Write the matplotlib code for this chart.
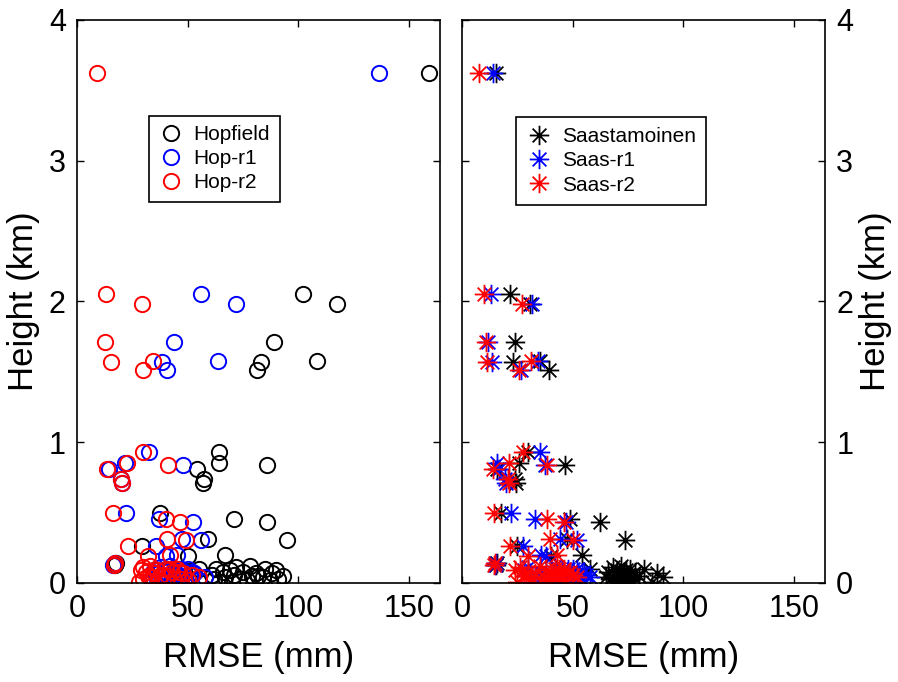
import matplotlib.pyplot as plt
from matplotlib.path import Path
import numpy as np

plt.rcParams['font.family'] = ['Liberation Sans', 'DejaVu Sans']

# station heights (km)
height = [3.62, 2.05, 1.98, 1.71, 1.57, 1.58, 1.51, 0.93, 0.855, 0.84, 0.81, 0.74, 0.71,
          0.495, 0.455, 0.435, 0.31, 0.305, 0.263, 0.20, 0.19, 0.14, 0.125,
          0.12, 0.11, 0.10, 0.10, 0.09, 0.09, 0.08, 0.08, 0.07, 0.07, 0.06, 0.06, 0.05,
          0.05, 0.04, 0.04, 0.03, 0.03, 0.02, 0.02, 0.01, 0.01, 0.10, 0.08, 0.05, 0.03]

# RMSE (mm), left panel
hopfield = [159, 102.3, 117.3, 89, 83.3, 108.6, 81.2, 64.3, 64.3, 86, 54, 57.4, 56.8,
            37.5, 71.1, 86, 59.3, 95, 29.6, 66.9, 50, 17.6, 17,
            78, 72, 63, 85, 69, 90, 75, 66, 81, 88, 61, 71, 79,
            93, 67, 84, 73, 62, 77, 87, 70, 64, 55, 52, 82, 91]
hop_r1 = [136.5, 56, 71.7, 43.8, 38.2, 63.6, 40.8, 32.7, 21.7, 48, 14.6, 20, 20.5,
          22.1, 37.2, 52.5, 47.3, 55.9, 35.7, 45, 40, 17, 16.5,
          42, 38, 46, 50, 35, 44, 48, 40, 53, 37, 45, 51, 39,
          47, 43, 58, 36, 49, 41, 55, 44, 34, 47, 52, 39, 46]
hop_r2 = [9, 13.1, 29.2, 12.7, 15.2, 34.2, 30, 30, 22.5, 41.3, 13.4, 19.7, 20.2,
          16.1, 40.2, 46.5, 40.8, 49.3, 23.2, 42, 32.2, 17.2, 16.8,
          33, 30, 40, 45, 29, 36, 43, 31, 48, 35, 38, 52, 32,
          41, 34, 55, 30, 44, 37, 50, 39, 28, 42, 46, 33, 47]

# RMSE (mm), right panel
saas = [15.5, 21.7, 30.5, 24, 23.2, 35.2, 39.2, 30, 25.9, 46.7, 16, 24, 24.5,
        17.5, 48.8, 62.4, 47.3, 73.7, 25, 54.1, 40, 15.9, 15.5,
        72, 68, 76, 82, 70, 74, 66, 78, 73, 88, 69, 75, 71,
        80, 65, 91, 73, 67, 76, 71, 86, 70, 58, 55, 74, 78]
saas_r1 = [13.8, 13, 31.5, 11.6, 13.4, 34.5, 26.5, 35.2, 16, 37.5, 16.9, 19.4, 20,
           22, 33, 47, 44.3, 52.1, 27.7, 35.8, 38, 15.5, 15,
           42, 30, 48, 52, 28, 45, 50, 35, 54, 40, 47, 56, 33,
           49, 44, 58, 38, 51, 46, 53, 43, 31, 50, 55, 36, 48]
saas_r2 = [7.7, 10.1, 27.3, 10.8, 11.1, 31, 25.9, 27.7, 21.4, 38.6, 14.2, 20.9, 21,
           14.5, 38.6, 46, 39.8, 50, 21.7, 42.8, 30, 14.9, 14.5,
           35, 26, 42, 46, 24, 38, 44, 30, 48, 33, 40, 50, 28,
           43, 37, 52, 31, 45, 39, 47, 36, 25, 44, 49, 29, 41]

# 8-spoke asterisk like MATLAB '*'
c = 0.7071
ast_verts = [(-1, 0), (1, 0), (0, -1), (0, 1), (-c, -c), (c, c), (-c, c), (c, -c)]
ast_codes = [Path.MOVETO, Path.LINETO] * 4
asterisk = Path(ast_verts, ast_codes)

fig = plt.figure(figsize=(8.98, 6.82), dpi=100)
ax1 = fig.add_axes([0.0857, 0.1452, 0.4043, 0.8255])
ax2 = fig.add_axes([0.5145, 0.1452, 0.4043, 0.8255])

for vals, col, lab in [(hopfield, 'black', 'Hopfield'), (hop_r1, 'blue', 'Hop-r1'),
                       (hop_r2, 'red', 'Hop-r2')]:
    ax1.plot(vals, height, 'o', ls='none', mfc='none', mec=col, ms=11, mew=1.4, label=lab)

for vals, col, lab in [(saas, 'black', 'Saastamoinen'), (saas_r1, 'blue', 'Saas-r1'),
                       (saas_r2, 'red', 'Saas-r2')]:
    ax2.plot(vals, height, marker=asterisk, ls='none', mfc='none', mec=col, ms=14, mew=1.3, label=lab)

for ax in (ax1, ax2):
    ax.set_xlim(0, 164)
    ax.set_ylim(0, 4)
    ax.set_xticks([0, 50, 100, 150])
    ax.set_yticks([0, 1, 2, 3, 4])
    ax.tick_params(direction='in', length=5, width=1, labelsize=22,
                   top=True, right=True, pad=8)
    ax.set_xlabel('RMSE (mm)', fontsize=25, labelpad=12)
    for s in ax.spines.values():
        s.set_linewidth(1.2)

ax1.set_ylabel('Height (km)', fontsize=25, labelpad=6)
ax2.yaxis.set_label_position('right')
ax2.tick_params(labelleft=False, labelright=True)
ax2.set_ylabel('Height (km)', fontsize=25, labelpad=4, rotation=90)

leg1 = ax1.legend(loc='upper left', bbox_to_anchor=(0.198, 0.83), borderaxespad=0,
                  fontsize=15, fancybox=False, edgecolor='black', framealpha=1,
                  handletextpad=0.5, borderpad=0.45, labelspacing=0.25, handlelength=1.2)
leg2 = ax2.legend(loc='upper left', bbox_to_anchor=(0.149, 0.828), borderaxespad=0,
                  fontsize=15, fancybox=False, edgecolor='black', framealpha=1,
                  handletextpad=0.5, borderpad=0.5, labelspacing=0.25, handlelength=1.2)
for leg in (leg1, leg2):
    leg.get_frame().set_linewidth(1.2)

fig.savefig('out.png', dpi=100)
